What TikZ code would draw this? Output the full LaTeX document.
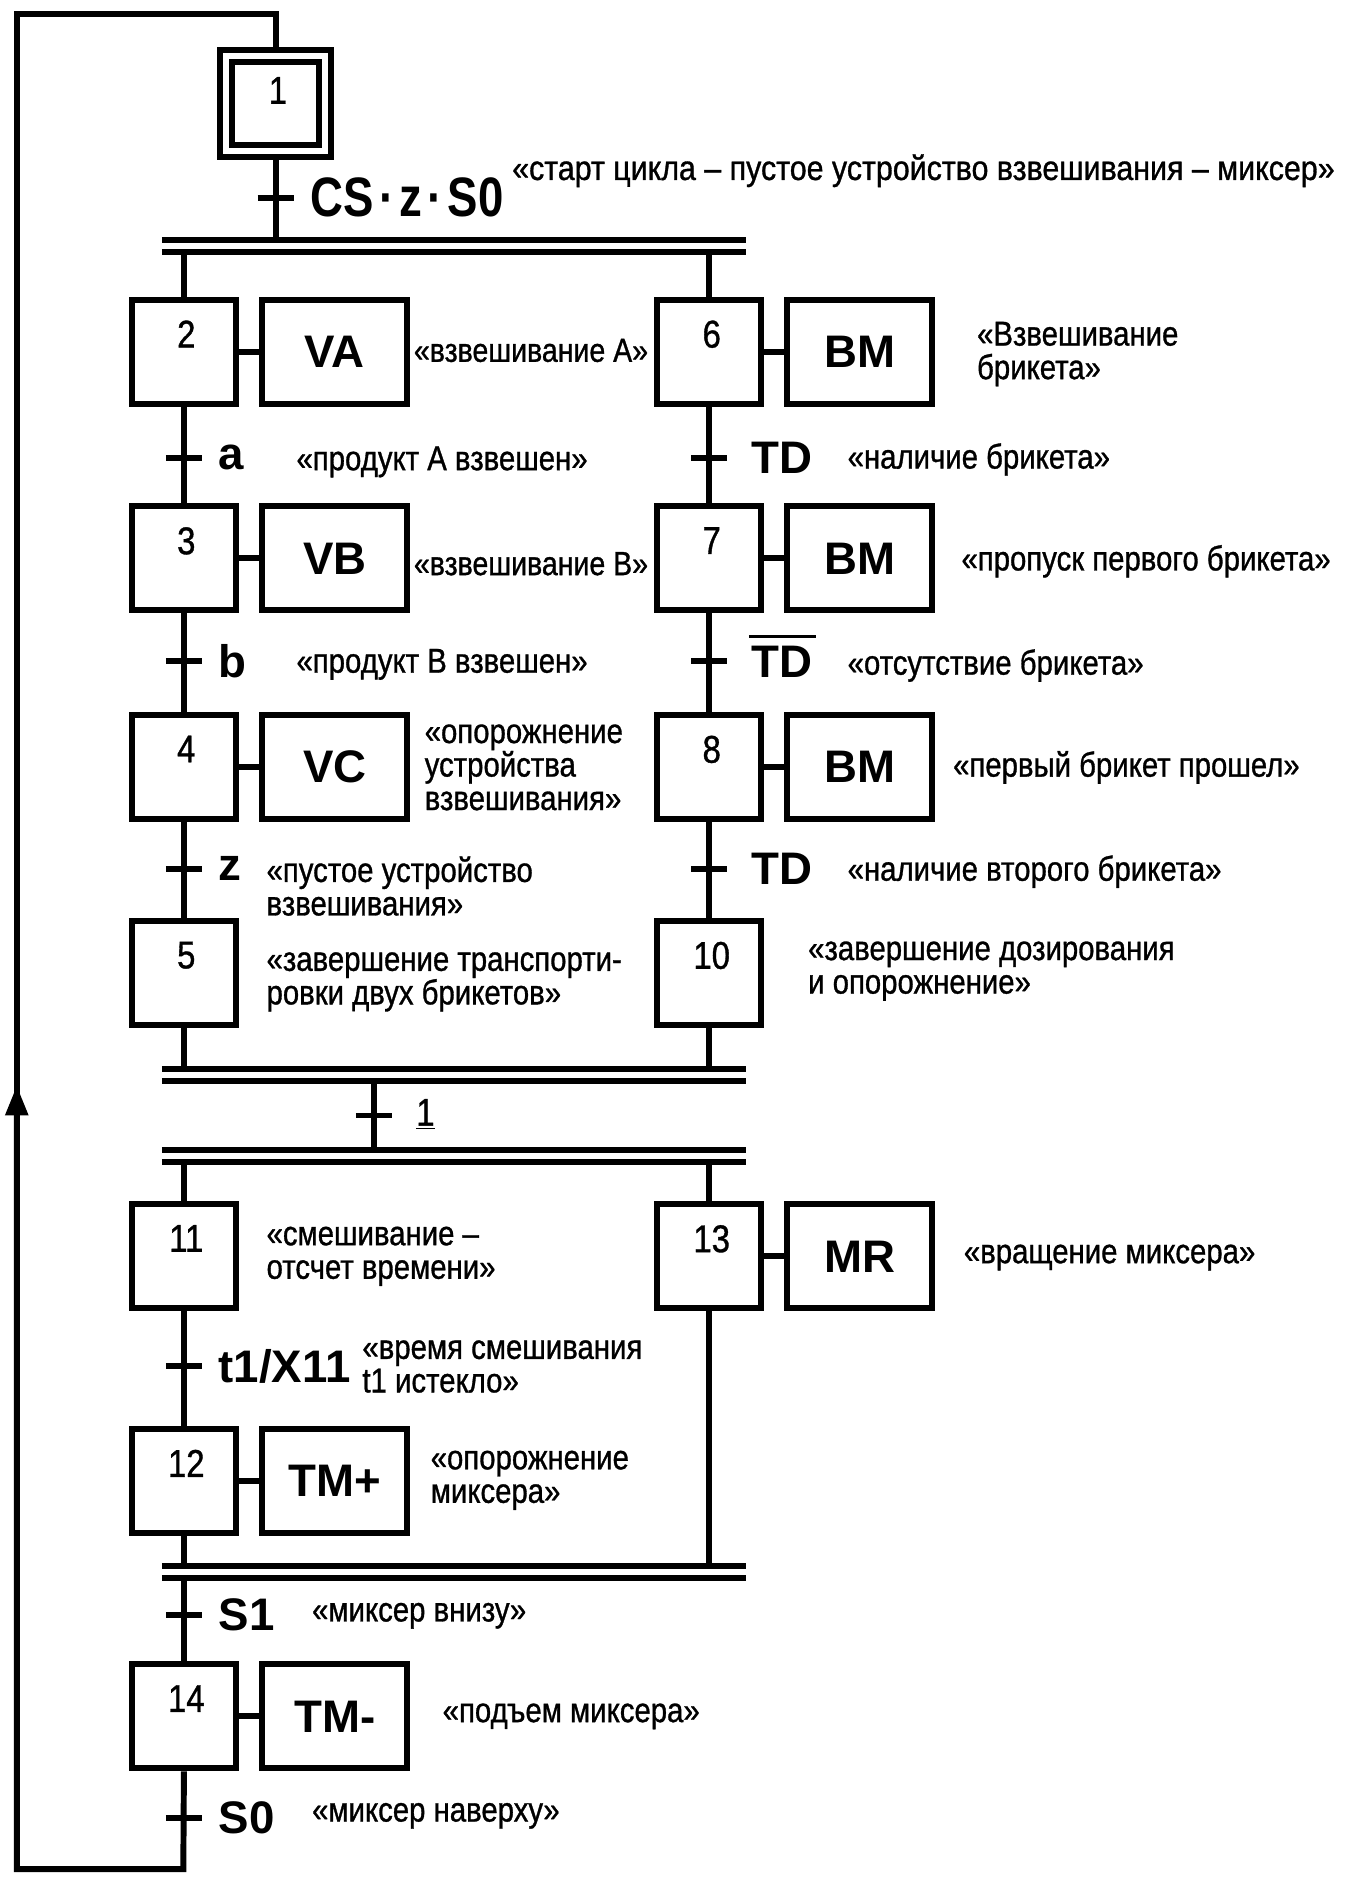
\documentclass[tikz,border=0pt]{standalone}
\usepackage{fontspec}
\setmainfont{Liberation Sans}
\newfontfamily\condfont[FakeStretch=0.85,FakeBold=0.9]{Liberation Sans}
\newfontfamily\condwfont[FakeStretch=0.88,FakeBold=0.9]{Liberation Sans}
\newfontfamily\condbfont[FakeStretch=0.82]{Liberation Sans Bold}
\usetikzlibrary{arrows.meta,calc}
\newcommand\cmtfont{\condfont\fontsize{17.4}{16.9}\selectfont}
\newcommand\actfont{\bfseries\fontsize{23}{24}\selectfont}
\newcommand\trfont{\bfseries\fontsize{23}{24}\selectfont}
\newcommand\numfont{\condfont\fontsize{19.5}{19.5}\selectfont}
\begin{document}
\begin{tikzpicture}[x=0.604pt,y=-0.604pt,line width=3pt,
  stepbox/.style={draw, line width=3pt, minimum width=52.4pt, minimum height=52.4pt, inner sep=0pt},
  actbox/.style={draw, line width=3pt, minimum width=73.1pt, minimum height=52.4pt, inner sep=0pt, font=\actfont},
  numlbl/.style={anchor=north, inner sep=0pt, yshift=-10.5pt, xshift=1.2pt, font=\numfont},
  cmt/.style={anchor=west, align=left, inner sep=0pt, font=\cmtfont, yshift=-1.5pt},
  trl/.style={anchor=west, inner sep=0pt, font=\trfont},
  bar/.style={line width=3pt, line cap=butt},
  tick/.style={line width=3pt}]
\useasboundingbox (0pt,0pt) rectangle (678pt,-946.2pt);

% ---------- step 1 (initial) ----------
\node[draw, line width=3pt, minimum width=56.2pt, minimum height=53.8pt, inner sep=0pt] (s1o) at (230,86.5) {};
\node[draw, line width=3pt, minimum width=43.5pt, minimum height=41.7pt, inner sep=0pt,
      label={[numlbl, yshift=3pt]north:1}] (s1i) at (230,86.5) {};

% ---------- bars ----------
\coordinate (b1) at (135,200);   \coordinate (b1e) at (623,200);
\coordinate (b1l) at (135,210);  \coordinate (b1le) at (623,210);
\coordinate (b2) at (135,892);   \coordinate (b2e) at (623,892);
\coordinate (b2l) at (135,902);  \coordinate (b2le) at (623,902);
\coordinate (b3) at (135,960);   \coordinate (b3e) at (623,960);
\coordinate (b3l) at (135,970);  \coordinate (b3le) at (623,970);
\coordinate (b4) at (135,1307);  \coordinate (b4e) at (623,1307);
\coordinate (b4l) at (135,1317); \coordinate (b4le) at (623,1317);
\foreach \a/\b in {b1/b1e,b1l/b1le,b2/b2e,b2l/b2le,b3/b3e,b3l/b3le,b4/b4e,b4l/b4le}
  \draw[bar] (\a) -- (\b);

% ---------- steps ----------
\node[stepbox, label={[numlbl]north:2}] (s2) at (153.5,293.5) {};
\node[stepbox, label={[numlbl]north:3}] (s3) at (153.5,466) {};
\node[stepbox, label={[numlbl]north:4}] (s4) at (153.5,640) {};
\node[stepbox, label={[numlbl]north:5}] (s5) at (153.5,812) {};
\node[stepbox, label={[numlbl]north:6}] (s6) at (592,293.5) {};
\node[stepbox, label={[numlbl]north:7}] (s7) at (592,466) {};
\node[stepbox, label={[numlbl]north:8}] (s8) at (592,640) {};
\node[stepbox, label={[numlbl]north:10}] (s10) at (592,812) {};
\node[stepbox, label={[numlbl]north:11}] (s11) at (153.5,1048.5) {};
\node[stepbox, label={[numlbl]north:13}] (s13) at (592,1048.5) {};
\node[stepbox, label={[numlbl]north:12}] (s12) at (153.5,1236) {};
\node[stepbox, label={[numlbl]north:14}] (s14) at (153.5,1432.5) {};

% ---------- actions ----------
\node[actbox] (aVA) at (279.5,293.5) {VA};
\node[actbox] (aVB) at (279.5,466) {VB};
\node[actbox] (aVC) at (279.5,640) {VC};
\node[actbox] (aBM1) at (717.5,293.5) {BM};
\node[actbox] (aBM2) at (717.5,466) {BM};
\node[actbox] (aBM3) at (717.5,640) {BM};
\node[actbox] (aMR) at (717.5,1048.5) {MR};
\node[actbox] (aTMp) at (279.5,1236) {TM+};
\node[actbox] (aTMm) at (279.5,1432.5) {TM-};
\foreach \s/\a in {s2/aVA,s3/aVB,s4/aVC,s6/aBM1,s7/aBM2,s8/aBM3,s13/aMR,s12/aTMp,s14/aTMm}
  \draw (\s.east) -- (\a.west);

% ---------- links ----------
\draw (s1o.south) -- (s1o.south |- b1);
\foreach \s in {s2,s6} \draw (\s.north) -- (\s.north |- b1l);
\draw (s2.south) -- (s3.north);
\draw (s3.south) -- (s4.north);
\draw (s4.south) -- (s5.north);
\draw (s6.south) -- (s7.north);
\draw (s7.south) -- (s8.north);
\draw (s8.south) -- (s10.north);
\foreach \s in {s5,s10} \draw (\s.south) -- (\s.south |- b2);
\coordinate (j1) at (312,902);
\coordinate (j2) at (312,960);
\draw (j1) -- (j2);
\foreach \s in {s11,s13} \draw (\s.north) -- (\s.north |- b3l);
\draw (s11.south) -- (s12.north);
\foreach \s in {s12,s13} \draw (\s.south) -- (\s.south |- b4);
\draw (s14.north) -- (s14.north |- b4l);

% ---------- loop back ----------
\coordinate (lb) at (153,1560);
\coordinate (lc) at (14,1560);
\coordinate (la) at (14,906);
\coordinate (ld) at (14,12);
\coordinate (le) at (230,12);
\draw[-{Triangle[length=15pt,width=11pt]}] (s14.south) -- (lb) -- (lc) -- (la);
\draw ([yshift=-5pt]la) -- (ld) -- (le) -- (s1o.north);

% ---------- transitions ----------
\coordinate (t1) at (230,165);
\coordinate (ta) at (153.5,382);
\coordinate (tb) at (153.5,552);
\coordinate (tz) at (153.5,725);
\coordinate (tr1) at (592,382);
\coordinate (tr2) at (592,552);
\coordinate (tr3) at (592,725);
\coordinate (tj) at (312,931);
\coordinate (tt) at (153.5,1140);
\coordinate (ts1) at (153.5,1348);
\coordinate (ts0) at (153.5,1517);
\foreach \t in {t1,ta,tb,tz,tr1,tr2,tr3,tj,tt,ts1,ts0}
  \draw[tick] (\t) +(-15,0) -- +(15,0);

\node[trl, font=\condbfont\fontsize{28}{30}\selectfont] (lCS) at (257,165) {CS\kern2.6pt·\kern2.6pt z\kern2.6pt·\kern2.6pt S0};
\node[trl] (la1) at (180,382) {a};
\node[trl] (lb1) at (180,552) {b};
\node[trl] (lz1) at (180,725) {z};
\node[trl] (ltd1) at (625,382) {TD};
\node[trl] (ltd2) at (625,552) {TD};
\draw[line width=1.5pt] ([yshift=3pt]ltd2.north west) -- ([yshift=3pt]ltd2.north east);
\node[trl] (ltd3) at (625,725) {TD};
\node[anchor=west, inner sep=0pt, font=\numfont] (lone) at (345,930) {\underline{1}};
\node[trl] (ltt) at (180,1140) {t1/X11};
\node[trl] (ls1) at (180,1348) {S1};
\node[trl] (ls0) at (180,1517) {S0};

% ---------- comments ----------
\node[cmt, font=\condwfont\fontsize{17.4}{16.9}\selectfont] (c1) at (425,140) {«старт цикла – пустое устройство взвешивания – миксер»};
\node[cmt, font=\condfont\fontsize{16.9}{16.9}\selectfont] (c2) at (343,290) {«взвешивание А»};
\node[cmt] (c3) at (813,293) {«Взвешивание\\брикета»};
\node[cmt] (c4) at (245,383) {«продукт А взвешен»};
\node[cmt] (c5) at (705,381) {«наличие брикета»};
\node[cmt, font=\condfont\fontsize{16.9}{16.9}\selectfont] (c6) at (343,468) {«взвешивание В»};
\node[cmt] (c7) at (800,466) {«пропуск первого брикета»};
\node[cmt] (c8) at (245,552) {«продукт В взвешен»};
\node[cmt] (c9) at (705,553) {«отсутствие брикета»};
\node[cmt] (c10) at (352,638) {«опорожнение\\устройства\\взвешивания»};
\node[cmt] (c11) at (793,638) {«первый брикет прошел»};
\node[cmt] (c12) at (220,737) {«пустое устройство\\взвешивания»};
\node[cmt] (c13) at (705,725) {«наличие второго брикета»};
\node[cmt] (c14) at (220,817) {«завершение транспорти-\\ровки двух брикетов»};
\node[cmt] (c15) at (672,808) {«завершение дозирования\\и опорожнение»};
\node[cmt] (c16) at (220,1046) {«смешивание –\\отсчет времени»};
\node[cmt] (c17) at (802,1047) {«вращение миксера»};
\node[cmt] (c18) at (300,1138) {«время смешивания\\t1 истекло»};
\node[cmt] (c19) at (357,1233) {«опорожнение\\миксера»};
\node[cmt] (c20) at (258,1346) {«миксер внизу»};
\node[cmt] (c21) at (367,1430) {«подъем миксера»};
\node[cmt] (c22) at (258,1513) {«миксер наверху»};
\end{tikzpicture}
\end{document}
